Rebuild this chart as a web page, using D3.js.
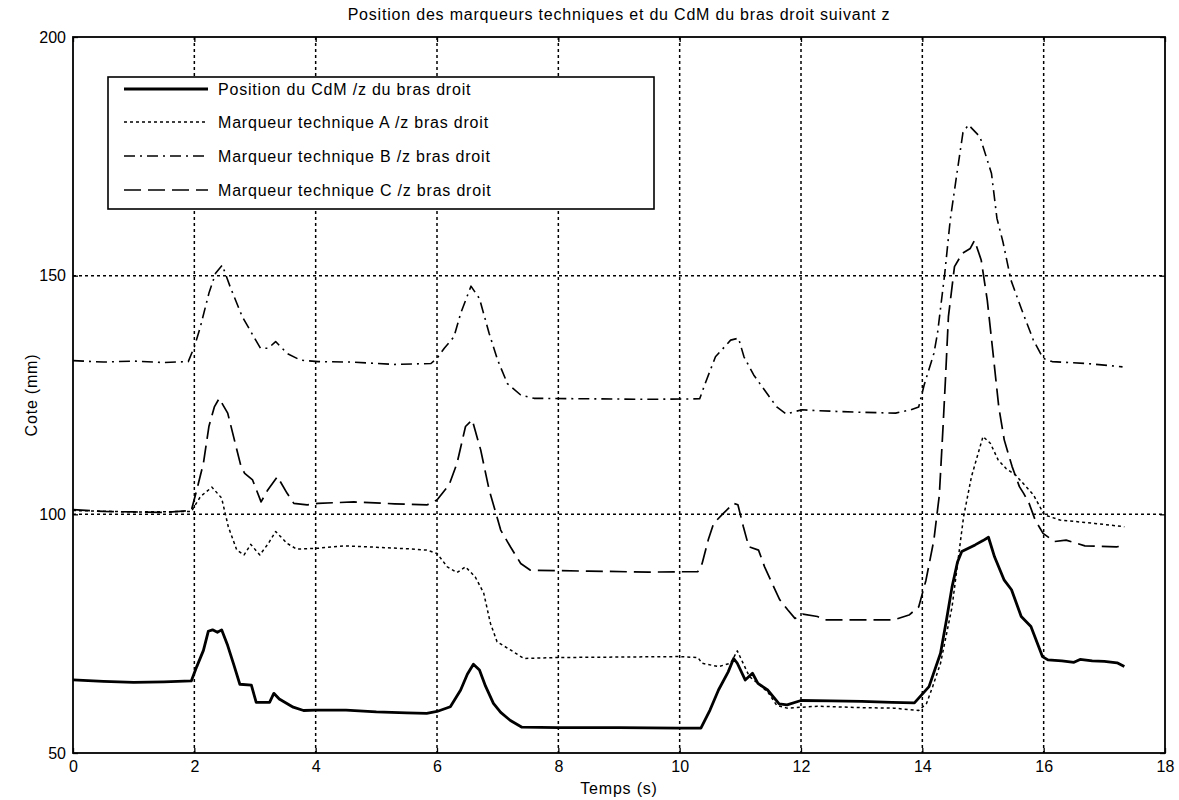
<!DOCTYPE html>
<html><head><meta charset="utf-8">
<script src="https://cdn.jsdelivr.net/npm/d3@7"></script>
<style>body{margin:0;background:#fff;} text{font-family:"Liberation Sans",Arial,sans-serif;fill:#000;}</style>
</head><body>
<svg id="c" width="1179" height="800"></svg>
<script>
// ---- data ----
const xTicks = [0,2,4,6,8,10,12,14,16,18];
const yTicks = [50,100,150,200];
const seriesNames = [
  "Position du CdM /z du bras droit",
  "Marqueur technique A /z bras droit",
  "Marqueur technique B /z bras droit",
  "Marqueur technique C /z bras droit"
];
const cdmT = [0,0.5,1.0,1.5,1.95,2.04,2.15,2.23,2.3,2.38,2.45,2.55,2.65,2.75,2.94,3.02,3.24,3.31,3.4,3.63,3.8,4.0,4.5,5.0,5.5,5.83,6.0,6.22,6.39,6.5,6.6,6.7,6.8,6.93,7.05,7.21,7.4,8,9,10,10.35,10.5,10.64,10.8,10.89,10.95,11.08,11.2,11.29,11.45,11.64,11.77,12.0,12.5,13.0,13.5,13.87,14.11,14.3,14.4,14.49,14.58,14.65,14.87,15.0,15.09,15.19,15.35,15.47,15.63,15.79,15.98,16.07,16.3,16.5,16.6,16.8,17.0,17.21,17.33];
const cdmV = [65.3,65.0,64.8,64.9,65.1,68.1,71.5,75.5,75.8,75.3,75.8,72.5,68.5,64.4,64.2,60.6,60.6,62.5,61.3,59.6,58.9,59.0,59.0,58.6,58.4,58.3,58.7,59.7,63.2,66.5,68.6,67.4,64.0,60.4,58.5,56.8,55.4,55.3,55.3,55.2,55.2,59.0,63.2,67.0,69.8,68.8,65.3,66.7,64.6,63.2,60.3,60.1,61.0,60.9,60.8,60.6,60.5,63.9,70.9,78.0,84.8,90.0,92.2,93.6,94.5,95.2,91.1,86.2,84.2,78.6,76.5,70.2,69.5,69.3,69.0,69.6,69.3,69.2,68.9,68.1];
const aT = [0,1,1.95,2.1,2.29,2.45,2.56,2.7,2.82,2.93,3.08,3.22,3.34,3.53,3.69,4.04,4.46,5.0,5.5,5.84,6.0,6.17,6.33,6.47,6.63,6.77,6.88,6.99,7.21,7.43,8.0,9.0,10.0,10.3,10.37,10.64,10.84,10.95,11.02,11.15,11.3,11.45,11.6,11.77,12.27,13.0,13.53,13.94,14.07,14.17,14.3,14.49,14.68,14.81,15.0,15.12,15.25,15.38,15.54,15.73,15.83,16.01,16.27,16.84,17.33];
const aV = [100.8,100.5,100.6,103.7,105.7,103.4,97.4,92.5,91.5,93.7,91.5,93.9,96.4,93.9,92.7,92.9,93.4,93.1,92.8,92.5,91.8,89.0,87.8,89.0,86.9,83.5,77.2,73.3,71.6,69.8,70.0,70.1,70.2,70.0,68.8,68.1,68.8,71.4,69.5,66.0,64.5,62.8,60.0,59.4,59.8,59.5,59.4,58.9,60.4,63.9,68.8,80.6,99.5,107.9,116.3,114.9,111.4,109.6,108.2,105.5,104.1,99.9,98.8,98.1,97.4];
const bT = [0,0.5,1.0,1.5,1.9,2.0,2.1,2.24,2.35,2.46,2.59,2.79,2.98,3.09,3.22,3.34,3.53,3.75,4.04,4.6,5.3,5.9,6.0,6.12,6.28,6.39,6.56,6.7,6.86,7.0,7.16,7.38,7.6,8.5,9.5,10.33,10.42,10.59,10.84,10.97,11.06,11.22,11.44,11.6,11.76,11.89,12.02,12.3,12.93,13.56,13.81,13.94,14.03,14.19,14.25,14.37,14.46,14.57,14.67,14.76,14.82,14.95,15.14,15.23,15.33,15.46,15.64,15.83,15.99,16.14,16.71,17.3];
const bV = [132.2,131.9,132.1,131.8,132.0,135.1,139.3,146.3,150.5,152.2,147.7,141.4,137.2,134.8,134.8,136.2,133.7,132.3,132.0,131.9,131.4,131.6,132.7,134.8,137.2,142.1,147.8,145.2,137.9,132.3,127.4,125.0,124.3,124.2,124.1,124.2,127.4,133.0,136.5,136.9,133.0,129.2,125.3,122.5,121.0,121.5,121.9,121.7,121.4,121.2,121.9,122.5,127.1,133.7,137.9,150.5,161.7,171.4,180.0,181.6,180.8,179.1,171.4,162.0,157.0,149.1,142.8,136.5,132.7,132.0,131.6,130.9];
const cT = [0,0.5,1.0,1.5,1.95,2.04,2.15,2.24,2.33,2.41,2.55,2.66,2.77,2.83,2.96,3.1,3.21,3.37,3.53,3.64,3.86,4.04,4.63,5.3,5.84,6.0,6.2,6.33,6.47,6.58,6.72,6.86,6.94,7.05,7.21,7.38,7.54,8.5,9.5,10.3,10.37,10.47,10.56,10.72,10.89,10.96,11.05,11.14,11.3,11.4,11.5,11.65,11.78,11.9,12.03,12.27,12.4,13.0,13.53,13.78,13.94,14.06,14.19,14.28,14.34,14.38,14.43,14.53,14.66,14.79,14.86,14.97,15.07,15.16,15.26,15.35,15.48,15.6,15.67,15.76,15.86,15.99,16.18,16.37,16.68,17.2,17.32];
const cV = [101.0,100.6,100.5,100.4,100.8,105.1,110.7,118.4,122.5,124.3,121.2,115.6,110.0,108.6,107.2,102.6,105.1,107.9,104.4,102.3,102.0,102.3,102.6,102.2,102.0,103.0,106.2,110.7,118.4,119.8,113.5,105.1,101.6,96.7,93.2,89.7,88.3,88.1,87.9,88.0,89.7,94.6,98.1,100.2,102.3,102.0,97.4,93.2,92.5,89.0,86.2,82.1,80.0,78.2,79.1,78.6,77.9,77.9,77.9,78.9,80.6,86.2,94.6,104.0,118.0,128.0,141.4,151.9,154.7,155.7,157.4,153.3,144.9,134.4,122.5,115.6,110.0,105.8,104.4,102.3,98.8,96.0,94.3,94.6,93.4,93.2,93.4];

// ---- layout ----
const L=73, R=1165, T=37, B=753;
const svg = d3.select("#c");
const x = d3.scaleLinear().domain([0,18]).range([L,R]);
const y = d3.scaleLinear().domain([50,200]).range([B,T]);
const FS = 16, LS = 0.8;

const styles = [
  {w:2.8, dash:null},
  {w:1.5, dash:"3,3"},
  {w:1.6, dash:"11,5,2,5"},
  {w:1.7, dash:"17,7"}
];
const series = [[cdmT,cdmV],[aT,aV],[bT,bV],[cT,cV]];

// grid
const g = svg.append("g");
g.selectAll("line.vg").data(xTicks.filter(d=>d>0&&d<18)).enter().append("line")
  .attr("x1",d=>x(d)).attr("x2",d=>x(d)).attr("y1",T).attr("y2",B)
  .attr("stroke","#000").attr("stroke-width",1.5).attr("stroke-dasharray","3,3");
g.selectAll("line.hg").data(yTicks.filter(d=>d>50&&d<200)).enter().append("line")
  .attr("x1",L).attr("x2",R).attr("y1",d=>y(d)).attr("y2",d=>y(d))
  .attr("stroke","#000").attr("stroke-width",1.5).attr("stroke-dasharray","3,3");

// lines
const line = d3.line().x(d=>x(d[0])).y(d=>y(d[1]));
series.forEach((s,i)=>{
  const pts = s[0].map((t,k)=>[t,s[1][k]]);
  svg.append("path").datum(pts).attr("d",line).attr("fill","none")
    .attr("stroke","#000").attr("stroke-width",styles[i].w)
    .attr("stroke-dasharray",styles[i].dash).attr("stroke-linejoin","round");
});

// axes
const xa = svg.append("g").attr("transform",`translate(0,${B})`)
  .call(d3.axisBottom(x).tickValues(xTicks).tickFormat(d3.format("d")).tickSizeInner(-5).tickSizeOuter(0).tickPadding(8));
const xt = svg.append("g").attr("transform",`translate(0,${T})`)
  .call(d3.axisTop(x).tickValues(xTicks).tickFormat("").tickSizeInner(-5).tickSizeOuter(0));
const ya = svg.append("g").attr("transform",`translate(${L},0)`)
  .call(d3.axisLeft(y).tickValues(yTicks).tickFormat(d3.format("d")).tickSizeInner(-5).tickSizeOuter(0).tickPadding(7));
const yr = svg.append("g").attr("transform",`translate(${R},0)`)
  .call(d3.axisRight(y).tickValues(yTicks).tickFormat("").tickSizeInner(-5).tickSizeOuter(0));
[xa,xt,ya,yr].forEach(a=>{
  a.select(".domain").remove();
  a.selectAll("line").attr("stroke","#000").attr("stroke-width",1.3);
  a.selectAll("text").attr("font-size",FS).attr("font-family","'Liberation Sans',Arial,sans-serif").attr("fill","#000");
});

// frame
svg.append("rect").attr("x",L).attr("y",T).attr("width",R-L).attr("height",B-T)
  .attr("fill","none").attr("stroke","#000").attr("stroke-width",1.8);

// titles
svg.append("text").attr("x",(L+R)/2).attr("y",20).attr("text-anchor","middle").attr("font-size",FS).attr("letter-spacing",LS)
  .text("Position des marqueurs techniques et du CdM du bras droit suivant z");
svg.append("text").attr("x",(L+R)/2).attr("y",794).attr("text-anchor","middle").attr("font-size",FS).attr("letter-spacing",LS)
  .text("Temps (s)");
svg.append("text").attr("transform",`translate(37,${(T+B)/2}) rotate(-90)`).attr("text-anchor","middle").attr("font-size",FS).attr("letter-spacing",LS)
  .text("Cote (mm)");

// legend
const lg = svg.append("g");
lg.append("rect").attr("x",108).attr("y",77).attr("width",546).attr("height",132)
  .attr("fill","#fff").attr("stroke","#000").attr("stroke-width",1.6);
const rowsY = [89,122,156,190];
seriesNames.forEach((n,i)=>{
  lg.append("line").attr("x1",124).attr("x2",208).attr("y1",rowsY[i]).attr("y2",rowsY[i])
    .attr("stroke","#000").attr("stroke-width",styles[i].w).attr("stroke-dasharray",styles[i].dash);
  lg.append("text").attr("x",218).attr("y",rowsY[i]+6).attr("font-size",FS).attr("letter-spacing",LS).text(n);
});
</script>
</body></html>
